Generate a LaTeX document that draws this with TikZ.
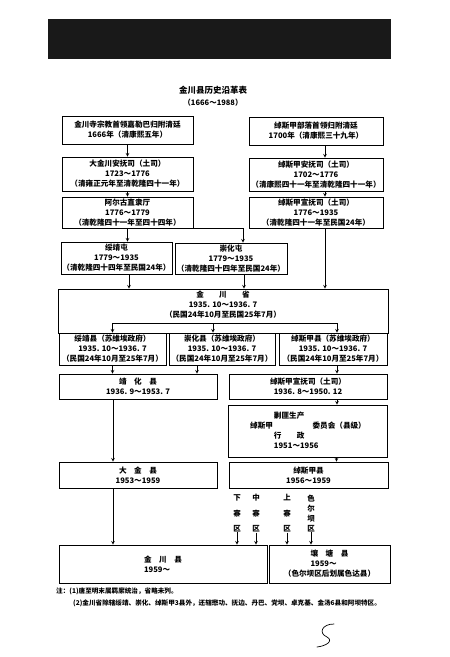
\documentclass[tikz,border=0pt]{standalone}
\usepackage{fontspec}
\setmainfont{Noto Sans CJK SC}
\usepackage{tikz}
\usetikzlibrary{arrows.meta, positioning, calc}
\tikzset{
    block/.style={
        rectangle, draw, align=center,
        inner sep=0pt, line width=0.8pt,
        font=\bfseries\fontsize{7.6}{10}\selectfont
    },
    region/.style={align=center, inner sep=0pt, font=\bfseries\fontsize{7.5}{15.5}\selectfont},
    line/.style={draw,->,>=stealth,line width=0.6pt},
    note/.style={anchor=west, inner sep=0pt, font=\bfseries\fontsize{6.6}{8}\selectfont}
}

\begin{document}
\begin{tikzpicture}[x=1pt, y=-1pt]
        \useasboundingbox (0,0) rectangle (450,657);
        % banner
        \fill [black!90] (48,19) rectangle (391,59);
        \node [font=\bfseries\fontsize{8.5}{10}\selectfont] (title) at (213,90) {金川县历史沿革表};
        \node [font=\bfseries\fontsize{7.5}{10}\selectfont] (years) at (213,103) {（1666～1988）};

        % left column
        \node [block, minimum width=131pt, minimum height=28pt] (jinchuansi) at (127.5,130) {金川寺宗教首领嘉勒巴归附清廷\\1666年（清康熙五年）};
        \node [block, minimum width=131pt, minimum height=34pt] (dajinchuan) at (127.5,174) {大金川安抚司（土司）\\1723～1776\\（清雍正元年至清乾隆四十一年）};
        \node [block, minimum width=131pt, minimum height=31pt] (aergu) at (127.5,212.5) {阿尔古直隶厅\\1776～1779\\（清乾隆四十一年至四十四年）};

        % right column
        \node [block, minimum width=134pt, minimum height=28pt] (chuosijia) at (316,131) {绰斯甲部落首领归附清廷\\1700年（清康熙三十九年）};
        \node [block, minimum width=134pt, minimum height=33pt] (chuoanfu) at (316,174.5) {绰斯甲安抚司（土司）\\1702～1776\\（清康熙四十一年至清乾隆四十一年）};
        \node [block, minimum width=134pt, minimum height=31pt] (chuoxuanfu) at (316,212.5) {绰斯甲宣抚司（土司）\\1776～1935\\（清乾隆四十一年至民国24年）};

        \node [block, minimum width=111pt, minimum height=32pt] (suijingtun) at (116.5,258) {绥靖屯\\1779～1935\\（清乾隆四十四年至民国24年）};
        \node [block, minimum width=112pt, minimum height=31pt] (chonghuatun) at (231,258.5) {崇化屯\\1779～1935\\（清乾隆四十四年至民国24年）};

        \node [block, minimum width=330pt, minimum height=44pt] (jinchuansheng) at (223,311) {金　　川　　省\\1935. 10～1936. 7\\（民国24年10月至民国25年7月）\\[3pt]};
        \coordinate (fenzhi) at (213,323);

        \node [block, minimum width=107pt, minimum height=32pt] (suijingxian) at (112.5,349) {绥靖县（苏维埃政府）\\1935. 10～1936. 7\\（民国24年10月至25年7月）};
        \node [block, minimum width=106pt, minimum height=32pt] (chonghuaxian) at (222,349) {崇化县（苏维埃政府）\\1935. 10～1936. 7\\（民国24年10月至25年7月）};
        \node [block, minimum width=108pt, minimum height=32pt] (chuoxian) at (333,349) {绰斯甲县（苏维埃政府）\\1935. 10～1936. 7\\（民国24年10月至25年7月）};

        \node [block, minimum width=158pt, minimum height=25pt] (jinghua) at (138,386.5) {靖　化　县\\1936. 9～1953. 7};
        \node [block, minimum width=158pt, minimum height=25pt] (chuotusi) at (308,386.5) {绰斯甲宣抚司（土司）\\1936. 8～1950. 12};

        \node [block, minimum width=159pt, minimum height=52pt] (jiaofei) at (308,431) {%
            \begin{tabular}{@{}l@{\hspace{1pt}}l@{\hspace{-6pt}}l@{}}
              & 剿匪生产 & \\
            绰斯甲 & & 委员会（县级）\\
              & 行　　政 & \\
              & 1951～1956 &
            \end{tabular}};

        \node [block, minimum width=158pt, minimum height=26pt] (dajin) at (138,475) {大　金　县\\1953～1959};
        \node [block, minimum width=159pt, minimum height=26pt] (chuoxianB) at (308.5,475) {绰斯甲县\\1956～1959};

        \node [region] (xiazhai) at (237,513.5) {下\\寨\\区};
        \node [region] (zhongzhai) at (256,513.5) {中\\寨\\区};
        \node [region] (shangzhai) at (287,513.5) {上\\寨\\区};
        \node [region, font=\bfseries\fontsize{7.5}{10}\selectfont] (seerba) at (311,513) {色\\尔\\坝\\区};

        \node [block, minimum width=208pt, minimum height=38pt] (jinchuanxian) at (163,564) {金　川　县\\\makebox[5em][l]{1959～}};
        \node [block, minimum width=121pt, minimum height=38pt] (rangtang) at (329.5,564) {壤　塘　县\\\makebox[5em][l]{1959～}\\（色尔坝区后划属色达县）};

        % notes
        \node [note] (zhu1) at (56,591) {注：(1)唐至明末属羁縻统治，省略未列。};
        \node [note] (zhu2) at (73,603) {(2)金川省除辖绥靖、崇化、绰斯甲3县外，还辖懋功、抚边、丹巴、党坝、卓克基、金汤6县和阿坝特区。};
        \draw [line width=0.7pt, line cap=round] (334,624) .. controls (322,624) and (318,633) .. (327,637) .. controls (334,641) and (326,646) .. (317,647);

        % connectors
        \draw [line] (jinchuansi) -- (dajinchuan);
        \draw [line] (dajinchuan) -- (aergu);
        \draw [line] (aergu.south) -- (aergu.south |- suijingtun.north);
        \draw [line] (aergu.south east) -| ([xshift=12pt]chonghuatun.north);
        \draw [line] ([xshift=9pt]chuosijia.south) -- ([xshift=9pt]chuoanfu.north);
        \draw [line] ([xshift=9pt]chuoanfu.south) -- ([xshift=9pt]chuoxuanfu.north);
        \draw [line] ([xshift=9pt]chuoxuanfu.south) -- ([xshift=9pt]chuoxuanfu.south |- jinchuansheng.north);
        \draw [line] ([xshift=12.5pt]suijingtun.south) -- ([xshift=12.5pt]suijingtun.south |- jinchuansheng.north);
        \draw [line] ([xshift=13pt]chonghuatun.south) -- ([xshift=13pt]chonghuatun.south |- jinchuansheng.north);

        \draw [line] (fenzhi) -| (suijingxian.north);
        \draw [line] (fenzhi) -- (fenzhi |- chonghuaxian.north);
        \draw [line] (fenzhi) -| ([xshift=4pt]chuoxian.north);

        \draw [line] (suijingxian.south) -- (suijingxian.south |- jinghua.north);
        \draw [line] ([xshift=-25pt]chonghuaxian.south) -- ([xshift=-25pt]chonghuaxian.south |- jinghua.north);
        \draw [line] ([xshift=4pt]chuoxian.south) -- ([xshift=4pt]chuoxian.south |- chuotusi.north);
        \draw [line] ([xshift=-25pt]jinghua.south) -- ([xshift=-25pt]jinghua.south |- dajin.north);
        \draw [line] ([xshift=-25pt]dajin.south) -- ([xshift=-25pt]dajin.south |- jinchuanxian.north);
        \draw [line] ([xshift=29pt]chuotusi.south) -- ([xshift=29pt]chuotusi.south |- jiaofei.north);
        \draw [line] ([xshift=28.5pt]jiaofei.south) -- ([xshift=28.5pt]jiaofei.south |- chuoxianB.north);

        \draw [line] (xiazhai) -- (xiazhai |- jinchuanxian.north);
        \draw [line] (zhongzhai) -- (zhongzhai |- jinchuanxian.north);
        \draw [line] (shangzhai) -- (shangzhai |- rangtang.north);
        \draw [line] (seerba) -- (seerba |- rangtang.north);
    \end{tikzpicture}
\end{document}
